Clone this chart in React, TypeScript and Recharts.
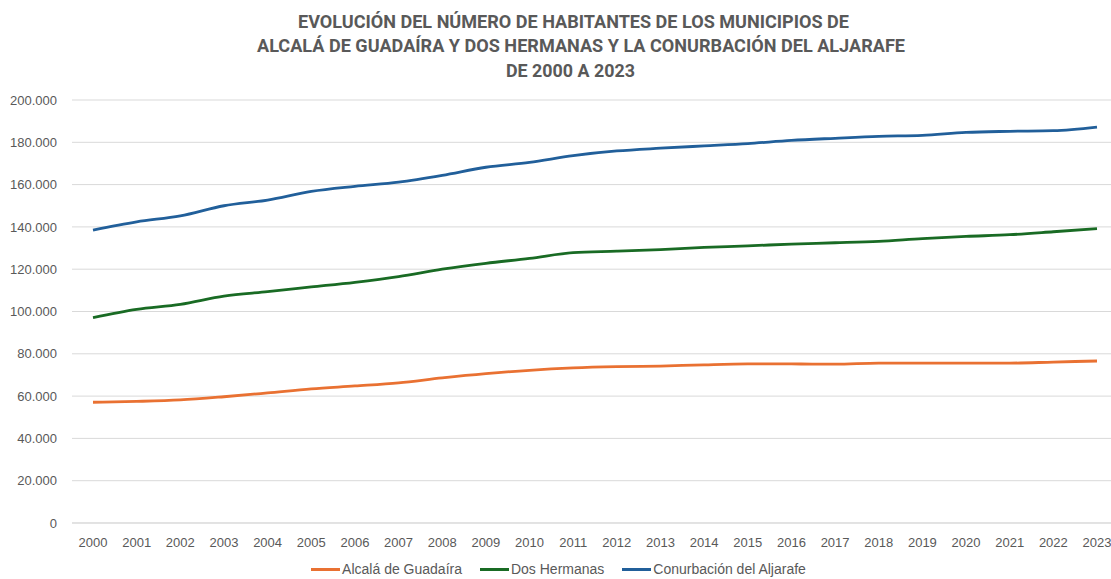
import React from "react";
import { LineChart, Line, XAxis, YAxis, CartesianGrid, Legend } from "recharts";

const years = [
  "2000", "2001", "2002", "2003", "2004", "2005", "2006", "2007", "2008", "2009", "2010", "2011",
  "2012", "2013", "2014", "2015", "2016", "2017", "2018", "2019", "2020", "2021", "2022", "2023",
];

const alcala = [
  57100, 57500, 58200, 59700, 61500, 63400, 64800, 66300, 68600, 70600, 72200, 73300,
  73900, 74200, 74800, 75200, 75200, 75100, 75600, 75600, 75600, 75600, 76100, 76600,
];

const dosHermanas = [
  97100, 101000, 103400, 107300, 109400, 111600, 113800, 116500, 120000, 122800, 125100, 127800,
  128500, 129300, 130300, 131000, 131900, 132500, 133200, 134500, 135500, 136300, 137700, 139200,
];

const aljarafe = [
  138500, 142400, 145200, 150000, 152700, 156800, 159200, 161200, 164400, 168200, 170500, 173700,
  175900, 177200, 178300, 179400, 180900, 181900, 182800, 183300, 184700, 185200, 185500, 187200,
];

const seriesNames = ["Alcalá de Guadaíra", "Dos Hermanas", "Conurbación del Aljarafe"];

const yTicks = [0, 20000, 40000, 60000, 80000, 100000, 120000, 140000, 160000, 180000, 200000];

const titleLines = [
  { text: "EVOLUCIÓN DEL NÚMERO DE HABITANTES DE LOS MUNICIPIOS DE", x1: 298, x2: 849, y: 28.3 },
  { text: "ALCALÁ DE GUADAÍRA Y DOS HERMANAS Y LA CONURBACIÓN DEL ALJARAFE", x1: 257, x2: 905, y: 51.7 },
  { text: "DE 2000 A 2023", x1: 506, x2: 635, y: 76.7 },
];

const data = years.map((year, i) => ({
  year,
  alcala: alcala[i],
  dosHermanas: dosHermanas[i],
  aljarafe: aljarafe[i],
}));

const textColor = "#595959";
const fontFamily = "'Liberation Sans', Arial, sans-serif";

const formatThousands = (v: number) =>
  String(v).replace(/\B(?=(\d{3})+(?!\d))/g, ".");

function LegendContent(props: any) {
  const payload = [...(props.payload || [])].sort(
    (a: any, b: any) => seriesNames.indexOf(a.value) - seriesNames.indexOf(b.value)
  );
  return (
    <div
      style={{
        display: "flex",
        justifyContent: "center",
        alignItems: "center",
        height: 20,
        paddingLeft: 24,
        fontFamily,
        fontSize: 14,
        color: textColor,
      }}
    >
      {payload.map((entry: any) => (
        <div
          key={entry.value}
          style={{ display: "flex", alignItems: "center", marginRight: 18 }}
        >
          <span
            style={{
              display: "inline-block",
              width: 29,
              height: 3,
              background: entry.color,
              marginRight: 2,
            }}
          />
          <span>{entry.value}</span>
        </div>
      ))}
    </div>
  );
}

export default function App() {
  return (
    <div
      style={{
        position: "absolute",
        left: 0,
        top: 0,
        width: 1111,
        height: 579,
        background: "#fff",
        overflow: "hidden",
      }}
    >
      <LineChart
        width={1111}
        height={579}
        data={data}
        margin={{ top: 100, right: 0, left: 0, bottom: 0 }}
      >
        <CartesianGrid vertical={false} stroke="#d9d9d9" strokeWidth={1} />
        <XAxis
          dataKey="year"
          axisLine={{ stroke: "#d9d9d9" }}
          tickLine={false}
          tickSize={0}
          tickMargin={15}
          height={36}
          interval={0}
          padding={{ left: 21, right: 14 }}
          tick={{ fill: textColor, fontSize: 13, fontFamily }}
        />
        <YAxis
          domain={[0, 200000]}
          ticks={yTicks}
          width={72}
          axisLine={false}
          tickLine={false}
          tickSize={0}
          tickMargin={15}
          tickFormatter={formatThousands}
          tick={{ fill: textColor, fontSize: 13, fontFamily }}
        />
        <Legend verticalAlign="bottom" content={<LegendContent />} />
        <Line
          type="monotone"
          dataKey="alcala"
          name={seriesNames[0]}
          stroke="#E97132"
          strokeWidth={2.8}
          dot={false}
          activeDot={false}
          isAnimationActive={false}
        />
        <Line
          type="monotone"
          dataKey="dosHermanas"
          name={seriesNames[1]}
          stroke="#196B24"
          strokeWidth={2.8}
          dot={false}
          activeDot={false}
          isAnimationActive={false}
        />
        <Line
          type="monotone"
          dataKey="aljarafe"
          name={seriesNames[2]}
          stroke="#215F9A"
          strokeWidth={2.8}
          dot={false}
          activeDot={false}
          isAnimationActive={false}
        />
      </LineChart>
      <svg
        width={1111}
        height={100}
        style={{ position: "absolute", left: 0, top: 0, pointerEvents: "none" }}
      >
        {titleLines.map((line) => (
          <text
            key={line.text}
            x={line.x1}
            y={line.y}
            textLength={line.x2 - line.x1}
            lengthAdjust="spacingAndGlyphs"
            fill={textColor}
            fontFamily="'Liberation Sans Narrow', 'Roboto', sans-serif"
            fontWeight="bold"
            fontSize={18.5}
          >
            {line.text}
          </text>
        ))}
      </svg>
    </div>
  );
}
